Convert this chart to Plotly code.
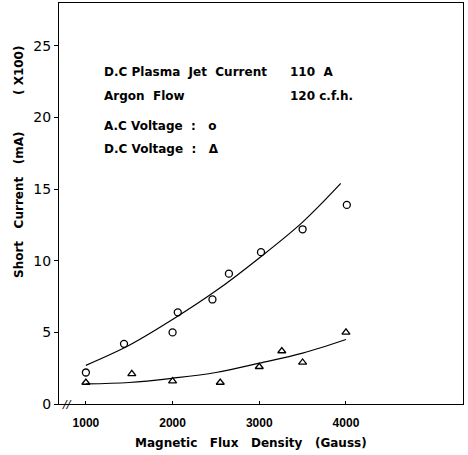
import plotly.graph_objects as go

# A.C voltage data (circles)
ac_x = [1000, 1440, 2000, 2060, 2460, 2650, 3020, 3500, 4010]
ac_y = [2.2, 4.2, 5.0, 6.4, 7.3, 9.1, 10.6, 12.2, 13.9]
# D.C voltage data (triangles)
dc_x = [1000, 1530, 2000, 2550, 3000, 3260, 3500, 4000]
dc_y = [1.5, 2.1, 1.6, 1.5, 2.6, 3.7, 2.9, 5.0]
# hand-drawn fit curves
ac_fit_x = [1000, 1500, 2000, 2500, 3000, 3500, 3940]
ac_fit_y = [2.7, 4.1, 5.9, 7.9, 10.2, 12.7, 15.4]
dc_fit_x = [1000, 1500, 2000, 2500, 3000, 3500, 4000]
dc_fit_y = [1.4, 1.5, 1.8, 2.2, 2.85, 3.55, 4.5]

x_ticks = [1000, 2000, 3000, 4000]
y_ticks = [0, 5, 10, 15, 20, 25]

FONT = "DejaVu Sans"
FONT2 = "Liberation Sans"

fig = go.Figure()
fig.add_trace(go.Scatter(x=ac_fit_x, y=ac_fit_y, mode="lines",
                         line=dict(color="black", width=1.2, shape="spline"),
                         showlegend=False, hoverinfo="skip"))
fig.add_trace(go.Scatter(x=dc_fit_x, y=dc_fit_y, mode="lines",
                         line=dict(color="black", width=1.2, shape="spline"),
                         showlegend=False, hoverinfo="skip"))
fig.add_trace(go.Scatter(x=ac_x, y=ac_y, mode="markers",
                         marker=dict(symbol="circle-open", size=7, color="black",
                                     line=dict(width=1.3)),
                         showlegend=False))
fig.add_trace(go.Scatter(x=dc_x, y=dc_y, mode="markers",
                         marker=dict(symbol="triangle-up-open", size=7, color="black",
                                     line=dict(width=1.3)),
                         showlegend=False))

tf = dict(family=FONT, size=12, color="black", weight="bold")
annots = [
    dict(text="D.C Plasma  Jet  Current", x=102, y=72),
    dict(text="110  A", x=288, y=72),
    dict(text="Argon  Flow", x=102, y=96),
    dict(text="120 c.f.h.", x=288, y=96),
    dict(text="A.C Voltage  :   o", x=102, y=126),
    dict(text="D.C Voltage  :   \u0394", x=102, y=149),
]
W, H = 468, 455
L, R, T, B = 59, 5, 3, 51
pw, ph = W - L - R, H - T - B
for a in annots:
    fig.add_annotation(text=a["text"], xref="paper", yref="paper",
                       x=(a["x"] - L) / pw, y=1 - (a["y"] - T) / ph,
                       xanchor="left", yanchor="middle", showarrow=False, font=tf)

# y-axis titles
fig.add_annotation(text="Short   Current   (mA)", xref="paper", yref="paper",
                   x=(19 - L) / pw, y=1 - (205 - T) / ph, textangle=-90,
                   xanchor="center", yanchor="middle", showarrow=False,
                   font=dict(family=FONT, size=12, color="black", weight="bold"))
fig.add_annotation(text="( X100)", xref="paper", yref="paper",
                   x=(19 - L) / pw, y=1 - (71 - T) / ph, textangle=-90,
                   xanchor="center", yanchor="middle", showarrow=False,
                   font=dict(family=FONT, size=12, color="black", weight="bold"))
# x-axis title
fig.add_annotation(text="Magnetic   Flux   Density   (Gauss)", xref="paper", yref="paper",
                   x=(251 - L) / pw, y=1 - (443 - T) / ph,
                   xanchor="center", yanchor="middle", showarrow=False,
                   font=dict(family=FONT, size=12, color="black", weight="bold"))
# axis break mark
fig.add_annotation(text="<i>//</i>", xref="paper", yref="paper",
                   x=(67 - L) / pw, y=0, xanchor="center", yanchor="middle",
                   showarrow=False, font=dict(family=FONT, size=11, color="black"))

fig.update_layout(
    width=W, height=H,
    margin=dict(l=L, r=R, t=T, b=B, autoexpand=False),
    paper_bgcolor="white", plot_bgcolor="white",
    font=dict(family=FONT, size=13, color="black"),
    xaxis=dict(range=[690, 5350], tickvals=x_ticks, ticktext=[str(v) for v in x_ticks],
               showline=True, linecolor="black", linewidth=1.2, mirror=True,
               ticks="inside", ticklen=3, tickcolor="black", showgrid=False, zeroline=False,
               automargin=False, ticklabelstandoff=7,
               tickfont=dict(family=FONT2, size=12, weight="bold")),
    yaxis=dict(range=[0, 28], tickvals=y_ticks, ticktext=[str(v) for v in y_ticks],
               showline=True, linecolor="black", linewidth=1.2, mirror=True,
               ticks="outside", ticklen=4, tickcolor="black", showgrid=False, zeroline=False,
               automargin=False,
               tickfont=dict(family=FONT, size=14)),
)

fig.write_html("out.html", config={"displayModeBar": False},
               post_script="document.body.style.margin='0';document.body.style.padding='0';")
